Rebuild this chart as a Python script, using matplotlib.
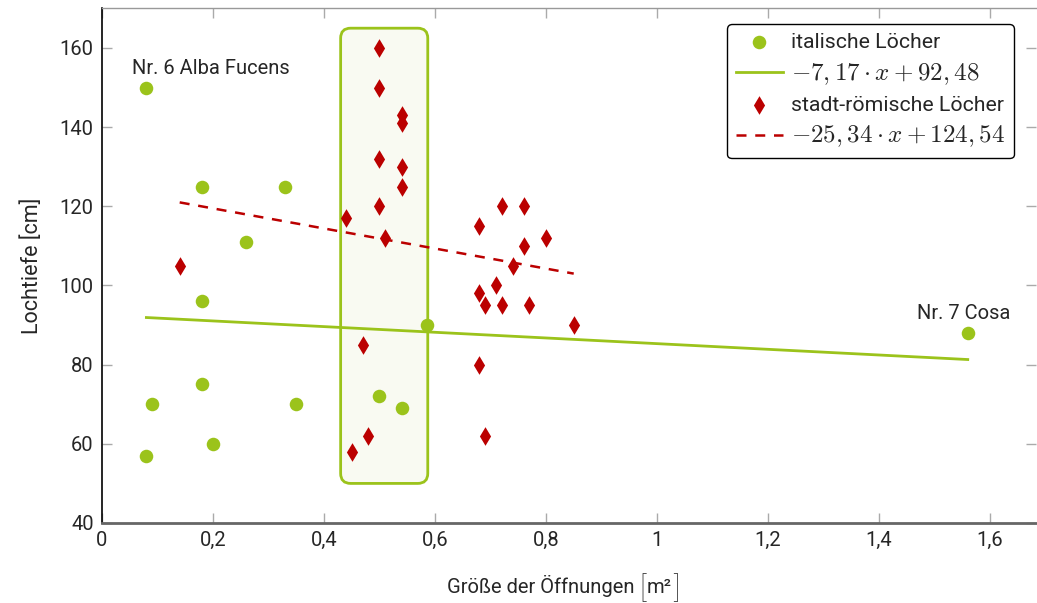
import numpy as np
import matplotlib
matplotlib.use("Agg")
import matplotlib.pyplot as plt
from matplotlib.patches import FancyBboxPatch
from matplotlib.ticker import FuncFormatter

plt.rcParams['font.family'] = ['Roboto', 'DejaVu Sans']
plt.rcParams['mathtext.fontset'] = 'cm'

# italische Löcher
ital_x = [0.08, 0.18, 0.33, 0.26, 0.18, 0.585, 0.18, 0.09, 0.35, 0.50, 0.54, 0.20, 0.08, 1.56]
ital_y = [150, 125, 125, 111, 96, 90, 75, 70, 70, 72, 69, 60, 57, 88]

# stadt-römische Löcher
rom_x = [0.50, 0.50, 0.54, 0.54, 0.50, 0.54, 0.54, 0.50, 0.44, 0.51, 0.14,
         0.68, 0.72, 0.76, 0.76, 0.80, 0.74, 0.71, 0.68, 0.69, 0.72, 0.77,
         0.85, 0.47, 0.68, 0.69, 0.48, 0.45]
rom_y = [160, 150, 143, 141, 132, 130, 125, 120, 117, 112, 105,
         115, 120, 120, 110, 112, 105, 100, 98, 95, 95, 95,
         90, 85, 80, 62, 62, 58]

# regression lines
ital_fit = (-7.17, 92.48)
rom_fit = (-25.34, 124.54)

green = "#9bc31b"
red = "#bb0000"
txt = "#262626"
fs = 14.5

fig = plt.figure(figsize=(10.37, 6.03), dpi=100)
W, H = 1037, 603
ax = fig.add_axes([102 / W, 1 - 523 / H, 934 / W, 515 / H])

# highlighted region
box = FancyBboxPatch((0.43, 50), 0.157, 115,
                     boxstyle="round,pad=0,rounding_size=0.018",
                     mutation_aspect=140,
                     facecolor="#f9faf2", edgecolor=green, linewidth=2, zorder=1)
ax.add_patch(box)

xl = np.array([min(ital_x), max(ital_x)])
xr = np.array([min(rom_x), max(rom_x)])

ax.scatter(ital_x, ital_y, s=95, color=green, marker="o", zorder=3,
           label="italische Löcher", linewidths=0)
ax.plot(xl, ital_fit[0] * xl + ital_fit[1], color=green, lw=2, zorder=2,
        label=r"$-7,17\cdot x+92,48$")
ax.scatter(rom_x, rom_y, s=90, color=red, marker="d", zorder=3,
           label="stadt-römische Löcher", linewidths=0)
ax.plot(xr, rom_fit[0] * xr + rom_fit[1], color=red, lw=1.8, ls=(0, (4, 3.5)),
        zorder=2, label=r"$-25,34\cdot x+124,54$")

ax.text(0.054, 152.3, "Nr. 6 Alba Fucens", fontsize=fs, color=txt,
        ha="left", va="bottom")
ax.text(1.553, 90.5, "Nr. 7 Cosa", fontsize=fs, color=txt,
        ha="center", va="bottom")

ax.set_xlim(0, 1.683)
ax.set_ylim(40, 170.1)
ax.set_xticks([0, 0.2, 0.4, 0.6, 0.8, 1.0, 1.2, 1.4, 1.6])
ax.set_yticks([40, 60, 80, 100, 120, 140, 160])
ax.xaxis.set_major_formatter(FuncFormatter(lambda v, p: f"{v:g}".replace(".", ",")))

ax.tick_params(direction="in", length=7, width=1, color="#aaaaaa",
               top=True, right=True, labelsize=fs, pad=6, labelcolor=txt)

ax.spines["left"].set_color("black")
ax.spines["left"].set_linewidth(1.2)
ax.spines["bottom"].set_color("#666666")
ax.spines["bottom"].set_linewidth(2)
ax.spines["top"].set_color("#999999")
ax.spines["top"].set_linewidth(1)
ax.spines["right"].set_visible(False)

ax.set_ylabel("Lochtiefe [cm]", fontsize=15.5, labelpad=12, color=txt)

leg = ax.legend(loc="upper right", bbox_to_anchor=(0.976, 0.968), fontsize=15.3,
                frameon=True, fancybox=True, framealpha=1, edgecolor="black",
                handlelength=2.2, handletextpad=0.4, borderpad=0.4,
                labelspacing=0.42, borderaxespad=0)
leg.get_frame().set_linewidth(1)
for t in leg.get_texts():
    t.set_color(txt)
    if t.get_text().startswith("$"):
        t.set_fontsize(18)

# x label with tall brackets around the unit, pieces placed after measuring
base = 10 / H
xlab = fig.text(447 / W, base, "Größe der Öffnungen", fontsize=fs,
                color=txt, ha="left", va="baseline")
fig.canvas.draw()
r = fig.canvas.get_renderer()
x = xlab.get_window_extent(r).x1 + 5
lb = fig.text(x / W, 6 / H, "[", fontsize=21, color=txt, fontweight="light",
              ha="left", va="baseline")
x = lb.get_window_extent(r).x1 + 1
unit = fig.text(x / W, base, "m²", fontsize=fs, color=txt,
                ha="left", va="baseline")
x = unit.get_window_extent(r).x1 + 1
fig.text(x / W, 6 / H, "]", fontsize=21, color=txt, fontweight="light",
         ha="left", va="baseline")

fig.savefig("out.png", dpi=100)
